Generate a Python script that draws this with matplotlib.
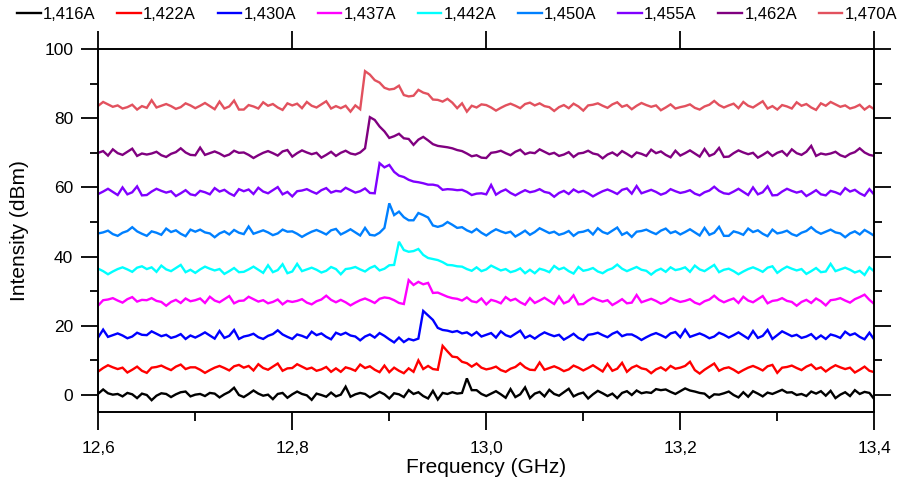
import numpy as np
import matplotlib
matplotlib.use("Agg")
import matplotlib.pyplot as plt
from matplotlib.ticker import FixedLocator, MultipleLocator

plt.rcParams['font.family'] = ['Liberation Sans', 'DejaVu Sans']

# Sweep grid (GHz), 161 samples from 12.6 to 13.4
freq_start, freq_stop, n_samples = 12.6, 13.4, 161

currents = ["1,416A", "1,422A", "1,430A", "1,437A", "1,442A",
            "1,450A", "1,455A", "1,462A", "1,470A"]
colors = ["#000000", "#ff0000", "#0000ff", "#ff00ff", "#00ffff",
          "#0080ff", "#8000ff", "#800080", "#e2515e"]

x_ticks = [12.6, 12.8, 13.0, 13.2, 13.4]
x_tick_labels = ["12,6", "12,8", "13,0", "13,2", "13,4"]
y_ticks = [0, 20, 40, 60, 80, 100]

# Spectra (dBm), each trace vertically stacked
i_1416 = [
    0.4, 1.6, 0.5, 0.1, 0.3, -0.4, 0.6, 0.2, -0.9, 0.4,
    0.0, -1.5, -0.2, 0.5, 0.3, -0.6, 0.2, 0.8, 1.0, -0.4,
    0.1, 0.3, -0.3, 0.6, 0.4, -0.7, 0.2, 0.9, 2.1, 0.0,
    -0.6, 0.3, 1.3, 0.4, -0.2, 0.1, -1.2, 0.3, 0.6, -0.8,
    0.2, 1.0, 0.3, -0.1, -1.4, 0.4, 0.0, -0.5, 0.7, -0.4,
    0.1, 2.4, -0.5, 0.2, 0.6, 0.3, -0.7, 0.1, 0.9, 0.2,
    -1.0, 0.5, 0.2, -0.6, 1.4, 0.3, 0.8, -0.3, -1.0, 1.2,
    -1.3, 0.6, 0.3, 0.8, 0.4, 0.6, 4.8, 1.4, 1.4, 0.3,
    -0.3, 0.4, 1.1, 0.2, -0.8, 1.7, -0.6, 0.2, 2.2, -0.9,
    0.4, 0.9, -0.4, 1.5, 0.3, -0.2, 0.8, 1.8, -0.4, 0.3,
    0.7, -1.0, 0.2, 1.2, 0.5, -0.3, 0.4, -0.9, 0.6, 1.1,
    0.0, 1.3, 0.5, 0.8, 0.6, 1.7, 1.4, 1.6, 0.9, 0.3,
    1.1, 1.9, 1.3, 1.0, 0.6, 0.4, -0.8, 0.2, 0.1, 0.5,
    1.0, 0.0, -0.7, 0.8, -0.5, 1.1, 0.4, -0.4, 0.7, 0.3,
    0.9, 1.5, 0.7, 0.8, 0.0, 0.3, -0.3, 1.0, 0.4, 1.1,
    -0.2, 1.2, -0.9, 0.1, 0.8, -0.3, 1.4, 0.3, 0.9, 0.6,
    -1.2]

i_1422 = [
    6.8, 7.8, 8.6, 8.0, 7.5, 7.9, 6.5, 7.3, 8.2, 7.0,
    6.4, 7.9, 8.1, 8.5, 7.8, 7.2, 8.2, 8.8, 7.5, 8.0,
    8.0, 7.3, 6.4, 7.2, 7.9, 8.4, 7.8, 7.1, 8.3, 8.7,
    7.9, 8.4, 7.1, 8.9, 7.8, 7.3, 8.2, 9.1, 7.0, 7.7,
    7.8, 8.9, 8.2, 7.5, 7.9, 7.0, 7.4, 8.1, 6.7, 7.7,
    6.7, 8.0, 7.6, 7.0, 8.8, 7.8, 8.3, 7.3, 6.6, 8.5,
    6.6, 7.9, 7.0, 6.3, 7.7, 6.7, 10.0, 7.5, 8.4, 7.5,
    7.3, 14.2, 12.6, 11.1, 10.9, 9.6, 9.2, 8.2, 9.1, 7.9,
    7.4, 7.7, 8.2, 7.2, 6.7, 7.6, 8.1, 9.2, 8.0, 7.3,
    7.2, 9.4, 7.3, 7.8, 8.3, 7.7, 6.9, 7.4, 8.5, 7.9,
    7.1, 7.8, 8.6, 7.7, 6.8, 9.0, 7.0, 7.6, 9.3, 6.7,
    7.9, 8.5, 7.7, 7.4, 6.3, 7.4, 8.0, 7.1, 8.4, 7.6,
    7.9, 8.4, 9.6, 7.2, 6.2, 7.3, 8.2, 9.1, 7.0, 7.7,
    8.0, 7.3, 6.4, 7.2, 7.9, 8.4, 7.8, 7.1, 8.3, 8.7,
    6.4, 7.9, 8.1, 8.5, 7.8, 7.2, 8.2, 8.8, 7.5, 8.0,
    6.8, 7.8, 8.6, 8.0, 7.5, 7.9, 6.5, 7.3, 8.2, 7.0,
    6.6]

i_1430 = [
    16.7, 18.9, 16.8, 17.3, 17.8, 17.2, 16.4, 16.9, 18.0, 17.4,
    17.3, 18.4, 17.7, 17.0, 17.4, 16.5, 16.9, 17.6, 16.2, 17.2,
    16.6, 17.3, 18.1, 17.2, 16.3, 18.5, 16.5, 17.1, 18.8, 16.2,
    16.9, 17.2, 17.7, 16.7, 16.2, 17.1, 17.6, 18.7, 17.5, 16.8,
    16.2, 17.5, 17.1, 16.5, 18.3, 17.3, 17.8, 16.8, 16.1, 18.0,
    17.4, 18.0, 17.2, 16.9, 15.8, 16.9, 17.5, 16.6, 17.9, 17.1,
    16.1, 15.2, 16.6, 15.3, 16.2, 15.8, 16.3, 24.3, 23.0, 21.7,
    19.4, 18.8, 18.6, 18.2, 18.5, 17.8, 18.1, 17.2, 18.2, 16.9,
    17.4, 17.9, 16.6, 18.4, 17.3, 16.8, 17.7, 18.6, 16.5, 17.2,
    16.3, 17.3, 18.1, 17.5, 17.0, 17.4, 16.0, 16.8, 17.7, 16.5,
    15.9, 17.4, 17.6, 18.0, 17.3, 16.7, 17.7, 18.3, 17.0, 17.5,
    17.5, 16.8, 15.9, 16.7, 17.4, 17.9, 17.3, 16.6, 17.8, 18.2,
    16.7, 18.9, 16.8, 17.3, 17.8, 17.2, 16.4, 16.9, 18.0, 17.4,
    16.6, 17.3, 18.1, 17.2, 16.3, 18.5, 16.5, 17.1, 18.8, 16.2,
    17.3, 18.4, 17.7, 17.0, 17.4, 16.5, 16.9, 17.6, 16.2, 17.2,
    16.2, 17.5, 17.1, 16.5, 18.3, 17.3, 17.8, 16.8, 16.1, 18.0,
    16.0]

i_1437 = [
    25.9, 27.4, 27.6, 28.0, 27.3, 26.7, 27.7, 28.3, 27.0, 27.5,
    27.4, 28.0, 27.2, 26.9, 25.8, 26.9, 27.5, 26.6, 27.9, 27.1,
    27.4, 27.9, 26.6, 28.4, 27.3, 26.8, 27.7, 28.6, 26.5, 27.2,
    27.3, 28.4, 27.7, 27.0, 27.4, 26.5, 26.9, 27.6, 26.2, 27.2,
    26.9, 27.2, 27.7, 26.7, 26.2, 27.1, 27.6, 28.7, 27.5, 26.8,
    27.5, 26.8, 25.9, 26.7, 27.4, 27.9, 27.3, 26.6, 27.8, 28.2,
    28.0, 27.4, 26.6, 26.3, 33.2, 31.8, 32.7, 32.0, 32.4, 29.5,
    29.6, 29.0, 28.4, 28.0, 27.8, 27.3, 28.2, 27.1, 26.8, 27.9,
    26.2, 27.5, 27.1, 26.5, 28.3, 27.3, 27.8, 26.8, 26.1, 28.0,
    26.6, 27.3, 28.1, 27.2, 26.3, 28.5, 26.5, 27.1, 28.8, 26.2,
    26.3, 27.3, 28.1, 27.5, 27.0, 27.4, 26.0, 26.8, 27.7, 26.5,
    26.7, 28.9, 26.8, 27.3, 27.8, 27.2, 26.4, 26.9, 28.0, 27.4,
    26.9, 27.2, 27.7, 26.7, 26.2, 27.1, 27.6, 28.7, 27.5, 26.8,
    27.4, 27.9, 26.6, 28.4, 27.3, 26.8, 27.7, 28.6, 26.5, 27.2,
    27.4, 28.0, 27.2, 26.9, 25.8, 26.9, 27.5, 26.6, 27.9, 27.1,
    25.9, 27.4, 27.6, 28.0, 27.3, 26.7, 27.7, 28.3, 29.0, 27.5,
    26.3]

i_1442 = [
    36.5, 35.8, 34.9, 35.7, 36.4, 36.9, 36.3, 35.6, 36.8, 37.2,
    36.4, 36.9, 35.6, 37.4, 36.3, 35.8, 36.7, 37.6, 35.5, 36.2,
    35.3, 36.3, 37.1, 36.5, 36.0, 36.4, 35.0, 35.8, 36.7, 35.5,
    35.6, 36.3, 37.1, 36.2, 35.3, 37.5, 35.5, 36.1, 37.8, 35.2,
    35.7, 37.9, 35.8, 36.3, 36.8, 36.2, 35.4, 35.9, 37.0, 36.4,
    34.9, 36.4, 36.6, 37.0, 36.3, 35.7, 36.7, 37.3, 36.0, 36.5,
    37.5, 37.6, 44.3, 41.9, 41.4, 41.6, 42.2, 40.5, 39.6, 39.3,
    39.0, 38.4, 37.6, 37.5, 37.2, 37.1, 36.4, 35.9, 36.9, 35.8,
    36.3, 37.4, 36.7, 36.0, 36.4, 35.5, 35.9, 36.6, 35.2, 36.2,
    35.2, 36.5, 36.1, 35.5, 37.3, 36.3, 36.8, 35.8, 35.1, 37.0,
    35.9, 36.2, 36.7, 35.7, 35.2, 36.1, 36.6, 37.7, 36.5, 35.8,
    36.4, 37.0, 36.2, 35.9, 34.8, 35.9, 36.5, 35.6, 36.9, 36.1,
    36.4, 36.9, 35.6, 37.4, 36.3, 35.8, 36.7, 37.6, 35.5, 36.2,
    36.5, 35.8, 34.9, 35.7, 36.4, 36.9, 36.3, 35.6, 36.8, 37.2,
    35.3, 36.3, 37.1, 36.5, 36.0, 36.4, 35.0, 35.8, 36.7, 35.5,
    35.7, 37.9, 35.8, 36.3, 36.8, 36.2, 35.4, 35.9, 34.7, 36.9,
    35.7]

i_1450 = [
    46.7, 47.0, 47.5, 46.5, 46.0, 46.9, 47.4, 48.5, 47.3, 46.6,
    46.0, 47.3, 46.9, 46.3, 48.1, 47.1, 47.6, 46.6, 45.9, 47.8,
    47.2, 47.8, 47.0, 46.7, 45.6, 46.7, 47.3, 46.4, 47.7, 46.9,
    46.5, 48.7, 46.6, 47.1, 47.6, 47.0, 46.2, 46.7, 47.8, 47.2,
    47.3, 46.6, 45.7, 46.5, 47.2, 47.7, 47.1, 46.4, 47.6, 48.0,
    46.4, 47.1, 47.9, 47.0, 46.1, 48.3, 46.3, 46.1, 46.9, 48.3,
    55.4, 52.0, 53.0, 51.4, 50.5, 50.5, 52.6, 52.0, 51.3, 49.0,
    48.6, 49.0, 50.0, 49.2, 48.3, 48.5, 47.6, 47.0, 48.0, 46.9,
    46.1, 47.1, 47.9, 47.3, 46.8, 47.2, 45.8, 46.6, 47.5, 46.3,
    47.1, 48.2, 47.5, 46.8, 47.2, 46.3, 46.7, 47.4, 46.0, 47.0,
    47.2, 47.7, 46.4, 48.2, 47.1, 46.6, 47.5, 48.4, 46.3, 47.0,
    45.7, 47.2, 47.4, 47.8, 47.1, 46.5, 47.5, 48.1, 46.8, 47.3,
    46.4, 47.1, 47.9, 47.0, 46.1, 48.3, 46.3, 46.9, 48.6, 46.0,
    46.0, 47.3, 46.9, 46.3, 48.1, 47.1, 47.6, 46.6, 45.9, 47.8,
    46.7, 47.0, 47.5, 46.5, 46.0, 46.9, 47.4, 48.5, 47.3, 46.6,
    47.2, 47.8, 47.0, 46.7, 45.6, 46.7, 47.3, 46.4, 47.7, 46.9,
    46.0]

i_1455 = [
    58.1, 58.8, 59.6, 58.7, 57.8, 60.0, 58.0, 58.6, 60.3, 57.7,
    57.8, 58.8, 59.6, 59.0, 58.5, 58.9, 57.5, 58.3, 59.2, 58.0,
    57.7, 59.0, 58.6, 58.0, 59.8, 58.8, 59.3, 58.3, 57.6, 59.5,
    58.9, 59.4, 58.1, 59.9, 58.8, 58.3, 59.2, 60.1, 58.0, 58.7,
    57.4, 58.9, 59.1, 59.5, 58.8, 58.2, 59.2, 59.8, 58.5, 59.0,
    58.8, 59.9, 59.2, 58.5, 58.9, 59.7, 58.4, 58.3, 67.0, 65.8,
    66.5, 64.5, 63.4, 63.0, 62.2, 61.7, 61.5, 61.2, 60.8, 60.8,
    60.5, 59.3, 59.5, 59.4, 59.2, 59.3, 58.7, 57.8, 58.2, 58.3,
    58.0, 60.7, 57.9, 58.8, 59.4, 58.4, 57.7, 58.5, 59.2, 58.6,
    58.9, 59.5, 58.7, 58.4, 57.3, 58.4, 59.0, 58.1, 59.4, 58.6,
    59.0, 58.3, 57.4, 58.2, 58.9, 59.4, 58.8, 58.1, 59.3, 59.7,
    58.2, 60.4, 58.3, 58.8, 59.3, 58.7, 57.9, 58.4, 59.5, 58.9,
    58.4, 58.7, 59.2, 58.2, 57.7, 58.6, 59.1, 60.2, 59.0, 58.3,
    58.1, 58.8, 59.6, 58.7, 57.8, 60.0, 58.0, 58.6, 60.3, 57.7,
    57.8, 58.8, 59.6, 59.0, 58.5, 58.9, 57.5, 58.3, 59.2, 58.0,
    57.7, 59.0, 58.6, 58.0, 59.8, 58.8, 59.3, 58.3, 57.6, 59.5,
    57.9]

i_1462 = [
    70.0, 70.5, 69.2, 71.0, 69.9, 69.4, 70.3, 71.2, 69.1, 69.8,
    69.5, 69.8, 70.3, 69.3, 68.8, 69.7, 70.2, 71.3, 70.1, 69.4,
    69.3, 71.5, 69.4, 69.9, 70.4, 69.8, 69.0, 69.5, 70.6, 70.0,
    70.1, 69.4, 68.5, 69.3, 70.0, 70.5, 69.9, 69.2, 70.4, 70.8,
    68.9, 69.9, 70.7, 70.1, 69.6, 70.0, 68.6, 69.4, 70.3, 69.1,
    70.0, 70.6, 69.8, 69.5, 70.1, 71.3, 80.3, 79.5, 77.6, 76.2,
    74.3, 74.8, 75.5, 74.2, 74.0, 72.3, 73.8, 74.6, 73.6, 72.5,
    72.0, 71.8, 71.6, 71.3, 70.8, 70.5, 69.8, 69.0, 69.3, 68.6,
    68.5, 70.0, 70.2, 70.6, 69.9, 69.3, 70.3, 70.9, 69.6, 70.1,
    69.9, 71.0, 70.3, 69.6, 70.0, 69.1, 69.5, 70.2, 68.8, 69.8,
    70.0, 70.6, 69.8, 69.5, 68.4, 69.5, 70.1, 69.2, 70.5, 69.7,
    68.8, 70.1, 69.7, 69.1, 70.9, 69.9, 70.4, 69.4, 68.7, 70.6,
    69.2, 69.9, 70.7, 69.8, 68.9, 71.1, 69.1, 69.7, 71.4, 68.8,
    68.9, 69.9, 70.7, 70.1, 69.6, 70.0, 68.6, 69.4, 70.3, 69.1,
    70.0, 70.5, 69.2, 71.0, 69.9, 69.4, 70.3, 72.0, 69.1, 69.8,
    69.5, 69.8, 70.3, 69.3, 68.8, 69.7, 70.2, 71.3, 70.1, 69.4,
    69.1]

i_1470 = [
    83.6, 84.7, 84.0, 83.3, 83.7, 82.8, 83.2, 83.9, 82.5, 83.5,
    83.0, 85.2, 83.1, 83.6, 84.1, 83.5, 82.7, 83.2, 84.3, 83.7,
    82.9, 83.6, 84.4, 83.5, 82.6, 84.8, 82.8, 83.4, 85.1, 82.5,
    82.5, 83.8, 83.4, 82.8, 84.6, 83.6, 84.1, 83.1, 82.4, 84.3,
    83.7, 84.2, 82.9, 84.7, 83.6, 83.1, 84.0, 84.9, 82.8, 83.5,
    82.9, 83.6, 81.9, 83.7, 82.6, 93.6, 92.6, 91.0, 90.3, 88.8,
    88.3, 88.5, 89.4, 86.7, 86.3, 86.5, 88.2, 87.4, 87.0, 85.4,
    85.3, 84.8, 85.6, 84.5, 82.9, 84.3, 81.9, 83.6, 83.1, 84.0,
    83.8, 83.1, 82.2, 83.0, 83.7, 84.2, 83.6, 82.9, 84.1, 84.5,
    83.7, 84.3, 83.5, 83.2, 82.1, 83.2, 83.8, 82.9, 84.2, 83.4,
    82.2, 83.7, 83.9, 84.3, 83.6, 83.0, 84.0, 84.6, 83.3, 83.8,
    82.6, 83.6, 84.4, 83.8, 83.3, 83.7, 82.3, 83.1, 84.0, 82.8,
    83.2, 83.5, 84.0, 83.0, 82.5, 83.4, 83.9, 85.0, 83.8, 83.1,
    83.7, 84.2, 82.9, 84.7, 83.6, 83.1, 84.0, 84.9, 82.8, 83.5,
    82.5, 83.8, 83.4, 82.8, 84.6, 83.6, 84.1, 83.1, 82.4, 84.3,
    83.6, 84.7, 84.0, 83.3, 83.7, 82.8, 83.2, 83.9, 82.5, 83.5,
    82.6]

spectra = [i_1416, i_1422, i_1430, i_1437, i_1442,
           i_1450, i_1455, i_1462, i_1470]

freq = np.linspace(freq_start, freq_stop, n_samples)

fig = plt.figure(figsize=(9.0, 4.82), dpi=100)
ax = fig.add_axes([0.1092, 0.1446, 0.8622, 0.7537])

handles = []
for label, color, values in zip(currents, colors, spectra):
    (ln,) = ax.plot(freq, values, color=color, lw=1.7, label=label,
                    solid_joinstyle="miter")
    handles.append(ln)

ax.set_xlim(freq_start, freq_stop)
ax.set_ylim(-5, 100)

for side in ["left", "right", "top", "bottom"]:
    ax.spines[side].set_linewidth(1.4)

ax.xaxis.set_major_locator(FixedLocator(x_ticks))
ax.set_xticklabels(x_tick_labels)
ax.xaxis.set_minor_locator(MultipleLocator(0.1))
ax.yaxis.set_major_locator(FixedLocator(y_ticks))
ax.yaxis.set_minor_locator(FixedLocator([10, 30, 50, 70, 90]))

ax.tick_params(axis="x", which="major", direction="out", length=13,
               width=1.3, labelsize=12.5, pad=8, top=True)
ax.tick_params(axis="x", which="minor", direction="out", length=6.5,
               width=1.3, top=False)
ax.tick_params(axis="y", which="major", direction="out", length=12,
               width=1.3, labelsize=12.5, pad=6, right=True)
ax.tick_params(axis="y", which="minor", direction="out", length=6,
               width=1.3, right=True)

ax.set_xlabel("Frequency (GHz)", fontsize=15, labelpad=1)
ax.set_ylabel("Intensity (dBm)", fontsize=15, labelpad=11)

fig.legend(handles=handles, loc="upper center", ncol=9,
           bbox_to_anchor=(0.508, 1.01), frameon=False, fontsize=12,
           handlelength=1.4, handletextpad=0.15, columnspacing=1.3,
           borderaxespad=0.3)

fig.savefig("out.png", dpi=100)
